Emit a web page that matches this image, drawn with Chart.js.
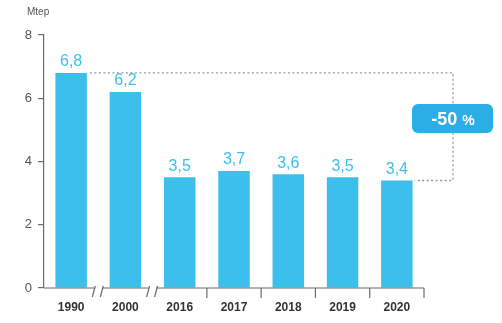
<!DOCTYPE html>
<html>
<head>
<meta charset="utf-8">
<script src="https://cdn.jsdelivr.net/npm/chart.js@4"></script>
<style>
  html,body{margin:0;padding:0;background:#fff;}
  #wrap{width:502px;height:323px;position:relative;}
</style>
</head>
<body>
<div id="wrap"><canvas id="chart"></canvas></div>
<script>
// ---------------- DATA ----------------
const years = ["1990","2000","2016","2017","2018","2019","2020"];
const values = [6.8, 6.2, 3.5, 3.7, 3.6, 3.5, 3.4];
const yTicks = [0, 2, 4, 6, 8];
const unitLabel = "Mtep";
const changeLabel = "-50";
const changeUnit = "%";
const breaksAfter = [0, 1]; // axis breaks after 1990 and 2000

const BLUE = "#3dbfee";
const AXIS = "#6b6b6b";

// ---------------- PLUGIN ----------------
const decor = {
  id:"decor",
  afterDatasetsDraw(c){
    const ctx = c.ctx;
    const x = c.scales.x, y = c.scales.y;
    const meta = c.getDatasetMeta(0);
    const base = y.getPixelForValue(0);

    ctx.save();

    // value labels
    ctx.font = "16px 'Liberation Sans', Arial, sans-serif";
    ctx.fillStyle = BLUE;
    ctx.textAlign = "center";
    ctx.textBaseline = "bottom";
    meta.data.forEach((b,i)=>{
      ctx.fillText(String(values[i]).replace(".", ","), b.x, b.y - 3);
    });

    // x axis line with breaks
    ctx.strokeStyle = AXIS;
    ctx.lineWidth = 1.2;
    const step = x.getPixelForValue(1) - x.getPixelForValue(0);
    let segStart = c.chartArea.left;
    for(let i=0;i<years.length;i++){
      const edge = x.getPixelForValue(i) + step/2;
      if(breaksAfter.includes(i)){
        ctx.beginPath();
        ctx.moveTo(segStart, base); ctx.lineTo(edge-4, base); ctx.stroke();
        [edge-4, edge+4].forEach(px=>{
          ctx.beginPath();
          ctx.moveTo(px-2, base+9); ctx.lineTo(px+1, base-2); ctx.stroke();
        });
        segStart = edge + 4;
      } else {
        ctx.beginPath();
        ctx.moveTo(segStart, base); ctx.lineTo(edge, base); ctx.stroke();
        if(i >= 2){
          ctx.beginPath();
          ctx.moveTo(edge, base); ctx.lineTo(edge, base+10); ctx.stroke();
        }
        segStart = edge;
      }
    }

    // dotted reduction bracket
    const first = meta.data[0], last = meta.data[meta.data.length-1];
    const bx = 453;
    const yTop = y.getPixelForValue(values[0]);
    const yBot = y.getPixelForValue(values[values.length-1]);
    ctx.strokeStyle = "#8c9aa4";
    ctx.lineWidth = 1.3;
    ctx.setLineDash([2,2.5]);
    ctx.beginPath();
    ctx.moveTo(first.x + first.width/2 + 3, yTop);
    ctx.lineTo(bx, yTop);
    ctx.lineTo(bx, yBot);
    ctx.lineTo(last.x + last.width/2 + 2, yBot);
    ctx.stroke();
    ctx.setLineDash([]);

    // badge
    const bw = 81, bh = 29, by = 104;
    ctx.fillStyle = "#2badE5";
    ctx.beginPath();
    ctx.roundRect(bx - 41, by, bw, bh, 6);
    ctx.fill();
    ctx.fillStyle = "#fff";
    ctx.textBaseline = "alphabetic";
    ctx.font = "bold 18px 'Liberation Sans', Arial, sans-serif";
    const w1 = ctx.measureText(changeLabel + " ").width;
    ctx.font = "bold 14px 'Liberation Sans', Arial, sans-serif";
    const w2 = ctx.measureText(changeUnit).width;
    let sx = bx - (w1 + w2)/2;
    ctx.textAlign = "left";
    ctx.font = "bold 18px 'Liberation Sans', Arial, sans-serif";
    ctx.fillText(changeLabel, sx, by + 21);
    ctx.font = "bold 14px 'Liberation Sans', Arial, sans-serif";
    ctx.fillText(changeUnit, sx + w1, by + 21);

    // unit label
    ctx.fillStyle = "#555";
    ctx.font = "10px 'Liberation Sans', Arial, sans-serif";
    ctx.textAlign = "left";
    ctx.textBaseline = "middle";
    ctx.fillText(unitLabel, 27, 12);

    ctx.restore();
  }
};

// ---------------- CHART ----------------
new Chart(document.getElementById("chart"),{
  type:"bar",
  data:{
    labels: years,
    datasets:[{
      data: values,
      backgroundColor: BLUE,
      barPercentage: 0.58,
      categoryPercentage: 1
    }]
  },
  options:{
    responsive:true,
    maintainAspectRatio:false,
    animation:false,
    layout:{ padding:{ top:35, right:78, left:1, bottom:0 } },
    plugins:{ legend:{display:false}, tooltip:{enabled:false} },
    scales:{
      x:{
        grid:{ display:false },
        border:{ display:false },
        ticks:{
          color:"#333",
          font:{ size:12, weight:"bold", family:"'Liberation Sans', Arial, sans-serif" },
          padding:4
        },
        afterFit(s){ s.height = 35; }
      },
      y:{
        min:0, max:8,
        afterBuildTicks(s){ s.ticks = yTicks.map(v=>({value:v})); },
        grid:{ drawOnChartArea:false, drawTicks:true, tickLength:6, color:AXIS, lineWidth:1.2 },
        border:{ display:true, color:AXIS, width:1.2 },
        ticks:{
          color:"#555",
          font:{ size:13, family:"'Liberation Sans', Arial, sans-serif" },
          padding:6
        },
        afterFit(s){ s.width = 43; }
      }
    }
  },
  plugins:[decor]
});
</script>
</body>
</html>
